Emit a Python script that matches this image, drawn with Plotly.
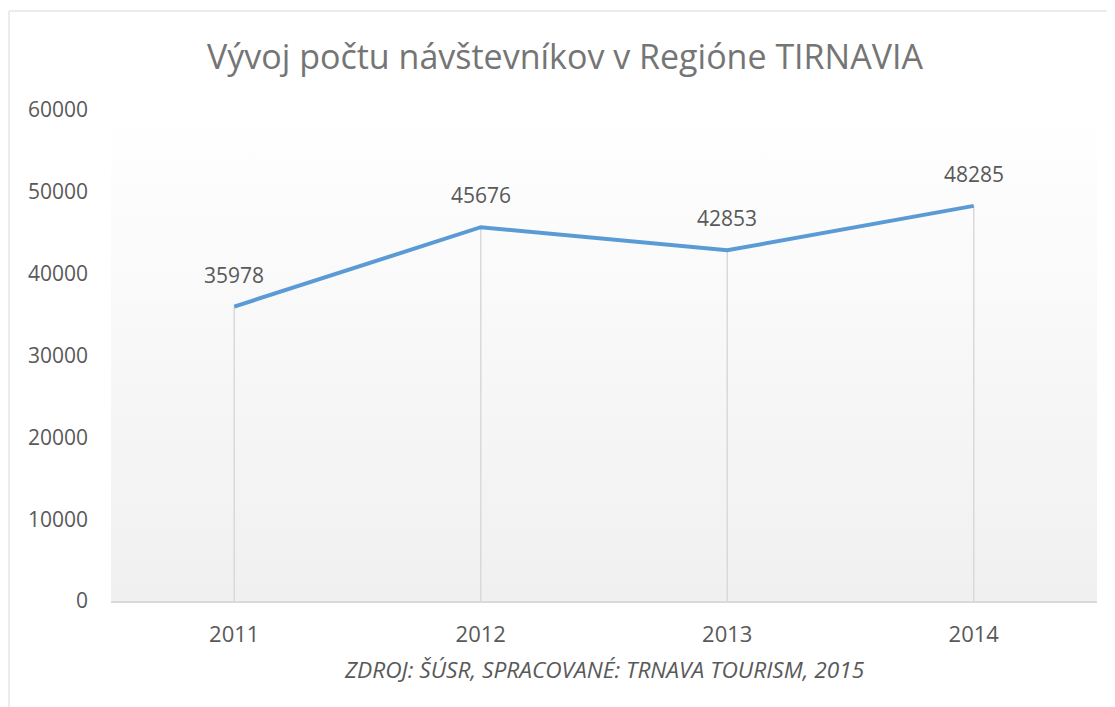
import plotly.graph_objects as go

years = ["2011", "2012", "2013", "2014"]
visitors = [35978, 45676, 42853, 48285]
title_text = "Vývoj počtu návštevníkov v Regióne TIRNAVIA"
source_text = "ZDROJ: ŠÚSR, SPRACOVANÉ: TRNAVA TOURISM, 2015"

FONT = "Open Sans"
OFF = 8  # page body margin
W, H = 1115 - OFF, 707 - OFF
L, T = 111 - OFF, 110 - OFF
R = W - (1097 - OFF)
B = H - (601 - OFF)
PW, PH = W - L - R, H - T - B

def px_x(px):
    return (px - OFF - L) / PW

def px_y(py):
    return (H - B - (py - OFF)) / PH

fig = go.Figure()

# gradient plot-area background
fig.add_trace(go.Scatter(
    x=[-0.5, 3.5, 3.5, -0.5, -0.5], y=[0, 0, 60000, 60000, 0],
    mode="lines", line=dict(width=0), fill="toself",
    fillgradient=dict(type="vertical", colorscale=[[0, "#f0f0f0"], [1, "#ffffff"]]),
    hoverinfo="skip", showlegend=False,
))

# drop lines
fig.add_trace(go.Scatter(
    x=[0, 1, 2, 3], y=visitors, mode="markers",
    marker=dict(size=0.1, opacity=0),
    error_y=dict(type="data", symmetric=False, array=[0] * len(visitors),
                 arrayminus=visitors, color="#d9d9d9", thickness=1.5, width=0),
    hoverinfo="skip", showlegend=False,
))

fig.add_trace(go.Scatter(
    x=[0, 1, 2, 3], y=visitors, mode="lines",
    line=dict(color="#5b9bd5", width=4),
    showlegend=False,
))

for i, v in enumerate(visitors):
    fig.add_annotation(x=i, y=v, text=str(v), showarrow=False,
                       yanchor="bottom", yshift=16,
                       font=dict(family=FONT, size=21, color="#595959"))

fig.add_annotation(xref="paper", yref="paper", x=0.5, y=px_y(669),
                   text=f"<i>{source_text}</i>", showarrow=False,
                   xanchor="center", yanchor="middle",
                   font=dict(family=FONT, size=22.7, color="#595959"))

# chart frame
fig.add_shape(type="rect", xref="paper", yref="paper",
              x0=px_x(9), y0=px_y(740), x1=px_x(1140), y1=px_y(11),
              line=dict(color="#d9d9d9", width=1), layer="below")

fig.update_layout(
    width=W, height=H,
    margin=dict(l=L, r=R, t=T, b=B),
    paper_bgcolor="white", plot_bgcolor="rgba(0,0,0,0)",
    title=dict(text=title_text, x=(565 - OFF) / W, xanchor="center",
               y=1 - (57 - OFF) / H, yanchor="middle",
               font=dict(family=FONT, size=34, color="#757575")),
    xaxis=dict(range=[-0.5, 3.5], tickmode="array", tickvals=[0, 1, 2, 3], ticktext=years,
               showgrid=False, zeroline=False, showline=True, linecolor="#d9d9d9", linewidth=1.5,
               ticks="", ticklabelstandoff=13,
               tickfont=dict(family=FONT, size=22, color="#595959")),
    yaxis=dict(range=[0, 60000], dtick=10000, tickformat="d", showgrid=False, zeroline=False,
               showline=False, ticks="", ticklabelstandoff=22,
               tickfont=dict(family=FONT, size=21, color="#595959")),
)

fig.write_html("out.html")
